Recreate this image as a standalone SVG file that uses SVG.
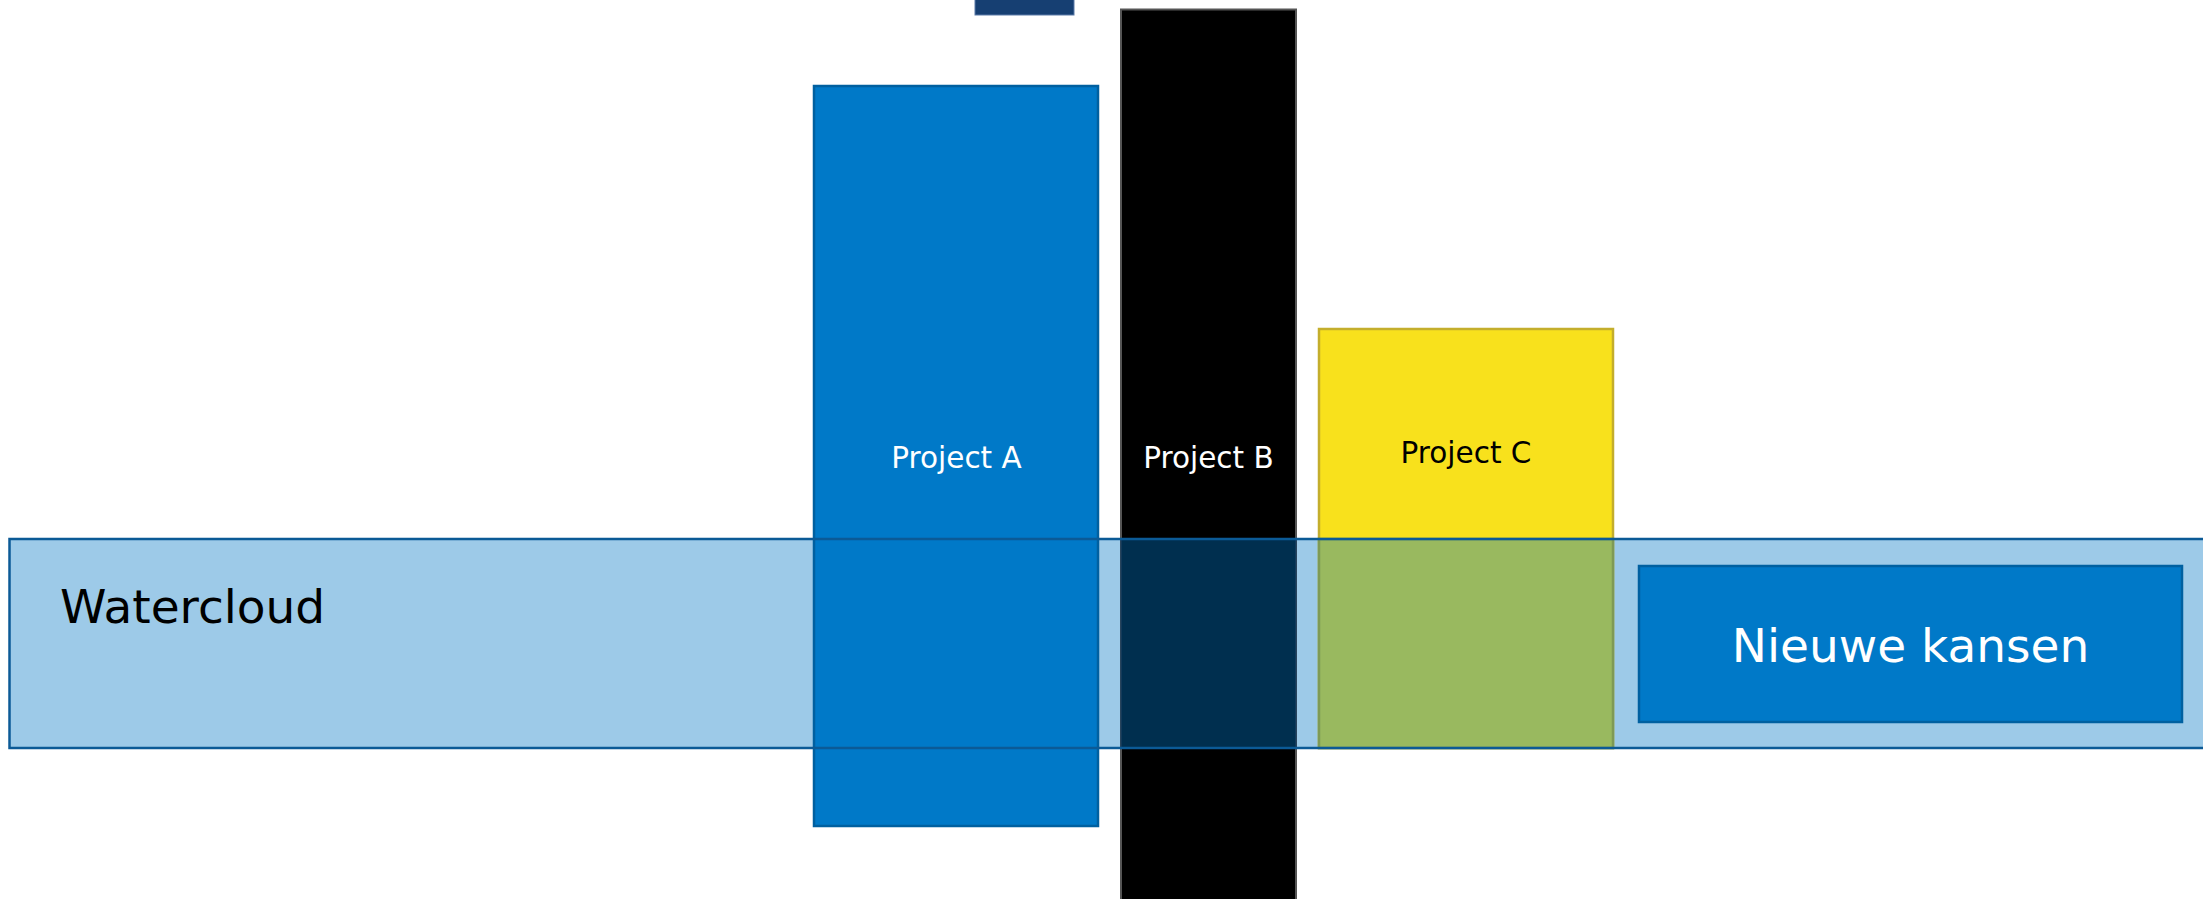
<svg xmlns="http://www.w3.org/2000/svg" width="2203" height="899" viewBox="0 0 2203 899">
<style>
  text { font-family: "DejaVu Sans", Verdana, "Liberation Sans", sans-serif; }
  .lbl { font-size: 29.5px; text-anchor: middle; }
  .big { font-size: 47px; }
  .blue { fill: #0079C8; stroke: #0060A0; stroke-width: 2.5; }
</style>
<rect x="0" y="0" width="2203" height="899" fill="#ffffff"/>
<g id="top-bar">
  <rect x="975" y="-5" width="99" height="20" fill="#163F72" stroke="#5a7aa8" stroke-width="1"/>
</g>
<g id="watercloud-fill">
  <rect x="9.5" y="539" width="2220" height="209" fill="#9DCAE8"/>
</g>
<g id="project-a">
  <rect class="blue" x="814" y="86" width="284" height="740"/>
  <text class="lbl" x="956.5" y="468" fill="#ffffff">Project A</text>
</g>
<g id="project-b">
  <rect x="1121" y="9.5" width="175" height="900" fill="#000000" stroke="#555555" stroke-width="2"/>
  <rect x="1121" y="539" width="175" height="209" fill="#002F4F" stroke="#1a3f5f" stroke-width="1.5"/>
  <text class="lbl" x="1208.5" y="468" fill="#ffffff">Project B</text>
</g>
<g id="project-c">
  <rect x="1319" y="329" width="294" height="419" fill="#F8E11C" stroke="#C4AE2C" stroke-width="2.5"/>
  <rect x="1319" y="539" width="294" height="209" fill="#99B95F" stroke="#7E9A55" stroke-width="2.5"/>
  <text class="lbl" x="1466" y="463" fill="#000000">Project C</text>
</g>
<g id="watercloud">
  <rect x="9.5" y="539" width="2220" height="209" fill="none" stroke="#0B5A96" stroke-width="2.5"/>
  <text class="big" x="60" y="623" fill="#000000">Watercloud</text>
</g>
<g id="nieuwe-kansen">
  <rect class="blue" x="1639" y="566" width="543" height="156"/>
  <text class="big" x="1910.5" y="662" fill="#ffffff" text-anchor="middle">Nieuwe kansen</text>
</g>
<g id="connectors"/>
</svg>
